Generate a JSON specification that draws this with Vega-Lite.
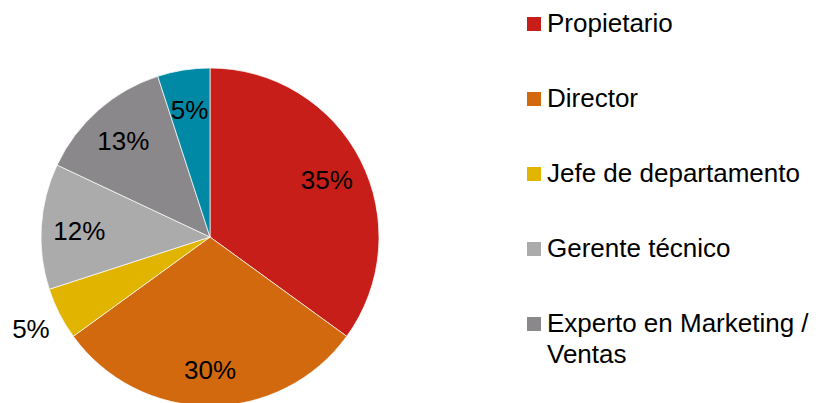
{
  "$schema": "https://vega.github.io/schema/vega-lite/v6.json",
  "width": 420,
  "height": 474,
  "padding": 0,
  "autosize": {"type": "pad"},
  "background": "white",
  "config": {"view": {"stroke": null}, "font": "Liberation Sans", "style": {"guide-label": {"lineHeight": 31}}},
  "data": {"values": [
    {"cat": "Propietario", "valor": 0.35, "orden": 1},
    {"cat": "Director", "valor": 0.30, "orden": 2},
    {"cat": "Jefe de departamento", "valor": 0.05, "orden": 3},
    {"cat": "Gerente técnico", "valor": 0.12, "orden": 4},
    {"cat": "Experto en Marketing / Ventas", "valor": 0.13, "orden": 5},
    {"cat": "Otros", "valor": 0.05, "orden": 6}
  ]},
  "encoding": {
    "theta": {"field": "valor", "type": "quantitative", "stack": true},
    "order": {"field": "orden", "type": "quantitative"}
  },
  "layer": [
    {
      "mark": {"type": "arc", "outerRadius": 169, "stroke": "white", "strokeWidth": 0.7},
      "encoding": {
        "color": {
          "field": "cat", "type": "nominal",
          "scale": {
            "domain": ["Propietario", "Director", "Jefe de departamento", "Gerente técnico", "Experto en Marketing / Ventas", "Otros"],
            "range": ["#C81E19", "#D2690E", "#E1B400", "#ABABAB", "#8A888A", "#0089A4"]
          },
          "legend": {
            "title": null,
            "orient": "right",
            "offset": 90,
            "padding": 11,
            "values": ["Propietario", "Director", "Jefe de departamento", "Gerente técnico", "Experto en Marketing / Ventas"],
            "symbolType": "square",
            "symbolSize": 196,
            "symbolStrokeWidth": 0,
            "labelFont": "Liberation Sans",
            "labelFontSize": 26,
            "labelColor": "#000000",
            "labelOffset": 0,
            "labelLimit": 400,
            "rowPadding": 49,
            "labelExpr": "datum.label == 'Experto en Marketing / Ventas' ? ['Experto en Marketing /', 'Ventas'] : datum.label",
            "encode": {"labels": {"update": {"lineHeight": {"value": 31}}}}
          }
        }
      }
    },
    {
      "mark": {"type": "text", "radius": 131, "dy": 3, "font": "Liberation Sans", "fontSize": 26, "color": "#000000"},
      "encoding": {
        "text": {
          "condition": {"test": "datum.cat !== 'Jefe de departamento'", "field": "valor", "format": ".0%"},
          "value": ""
        }
      }
    },
    {
      "mark": {"type": "text", "radius": 201, "dy": 2, "font": "Liberation Sans", "fontSize": 26, "color": "#000000"},
      "encoding": {
        "text": {
          "condition": {"test": "datum.cat === 'Jefe de departamento'", "field": "valor", "format": ".0%"},
          "value": ""
        }
      }
    }
  ]
}
